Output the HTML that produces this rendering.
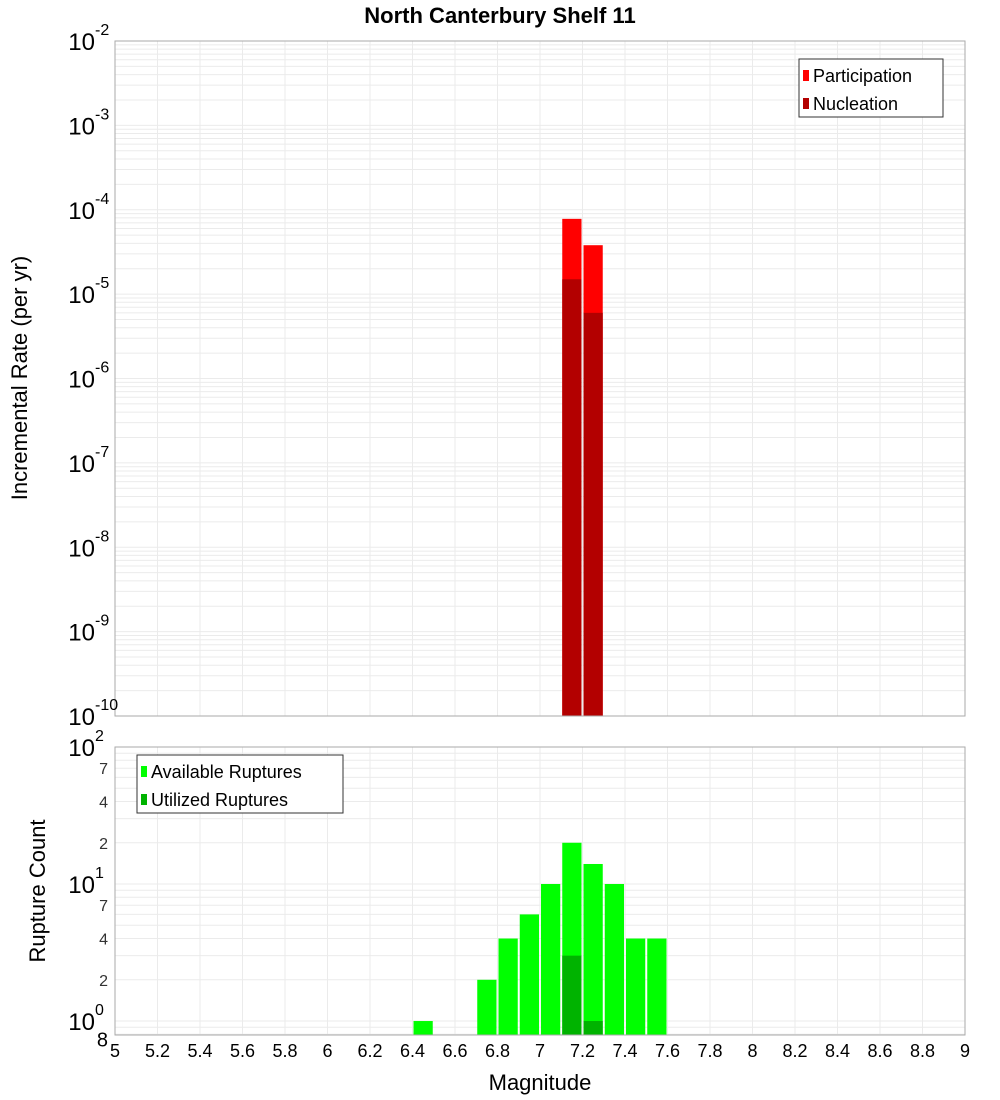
<!DOCTYPE html>
<html><head><meta charset="utf-8"><style>
body{margin:0;background:#fff;}
svg{display:block;font-family:"Liberation Sans","DejaVu Sans",sans-serif;}
</style></head><body>
<svg id="c" width="1000" height="1100"></svg>
<script>
const xTicks=[5,5.2,5.4,5.6,5.8,6,6.2,6.4,6.6,6.8,7,7.2,7.4,7.6,7.8,8,8.2,8.4,8.6,8.8,9];
const topMags=[7.1,7.2];
const participation=[7.8e-5,3.8e-5];
const nucleation=[1.5e-5,6e-6];
const botMags=[6.4,6.7,6.8,6.9,7.0,7.1,7.2,7.3,7.4,7.5];
const available=[1,2,4,6,10,20,14,10,4,4];
const utilMags=[7.1,7.2];
const utilized=[3,1];
const topExps=[-10,-9,-8,-7,-6,-5,-4,-3,-2];
const botExps=[0,1,2];
const botMinor=[2,4,7];

const NS="http://www.w3.org/2000/svg";
const svg=document.getElementById('c');
function mk(t,a,p){const e=document.createElementNS(NS,t);for(const k in a)e.setAttribute(k,a[k]);(p||svg).appendChild(e);return e;}
const X0=115,X1=965;
const xs=m=>X0+(m-5)/4*(X1-X0);
const T0=41,T1=716;
const yt=v=>T1-(Math.log10(v)+10)/8*(T1-T0);
const B0=747,B1=1035,BMIN=-0.102,BMAX=2;
const yb=v=>B1-(Math.log10(v)-BMIN)/(BMAX-BMIN)*(B1-B0);

const g=mk('g',{});


// vertical grid
xTicks.forEach(t=>{
 mk('line',{x1:xs(t),x2:xs(t),y1:T0,y2:T1,stroke:'#ebebeb'},g);
 mk('line',{x1:xs(t),x2:xs(t),y1:B0,y2:B1,stroke:'#ebebeb'},g);
});
// horizontal top grid
for(let e=-10;e<-2;e++)for(let k=1;k<10;k++){const y=yt(k*Math.pow(10,e));mk('line',{x1:X0,x2:X1,y1:y,y2:y,stroke:'#ebebeb'},g);}
for(let e=-1;e<2;e++)for(let k=1;k<10;k++){const v=k*Math.pow(10,e);const y=yb(v);if(y>=B0&&y<=B1)mk('line',{x1:X0,x2:X1,y1:y,y2:y,stroke:'#ebebeb'},g);}

// top bars
topMags.forEach((m,i)=>{
 const x=xs(m)+1,w=xs(m+0.1)-xs(m)-2;
 const p=mk('rect',{x:x,y:yt(participation[i]),width:w,height:T1-yt(participation[i]),fill:'#ff0000'});
 
 
 const n=mk('rect',{x:x,y:yt(nucleation[i]),width:w,height:T1-yt(nucleation[i]),fill:'#b30000'});
 
 
});
botMags.forEach((m,i)=>{
 const x=xs(m)+1,w=xs(m+0.1)-xs(m)-2;
 const r=mk('rect',{x:x,y:yb(available[i]),width:w,height:B1-yb(available[i]),fill:'#00ff00'});
 
 
});
utilMags.forEach((m,i)=>{
 const x=xs(m)+1,w=xs(m+0.1)-xs(m)-2;
 const r=mk('rect',{x:x,y:yb(utilized[i]),width:w,height:B1-yb(utilized[i]),fill:'#00b300'});
 
 
});
// frames
const f1=mk('rect',{x:X0,y:T0,width:X1-X0,height:T1-T0,fill:'none',stroke:'#aaa'});


const f2=mk('rect',{x:X0,y:B0,width:X1-X0,height:B1-B0,fill:'none',stroke:'#aaa'});



// x tick labels
xTicks.forEach(t=>{
 const tx=mk('text',{x:xs(t),y:1057,'font-size':18,'text-anchor':'middle'});
 tx.textContent=String(t);
 
 
});
function pow(y,e,name){
 const t=mk('text',{x:95,y:y+9,'font-size':24,'text-anchor':'end'});
 t.textContent='10';
 
 
 const s=mk('text',{x:95,y:y-6,'font-size':16});
 s.textContent=String(e);
 
 
}
topExps.forEach(e=>pow(yt(Math.pow(10,e)),e,'top-y-tick-label'));
botExps.forEach(e=>pow(yb(Math.pow(10,e)),e,'bottom-y-tick-label'));
for(let e=0;e<2;e++)botMinor.forEach(k=>{
 const t=mk('text',{x:108,y:yb(k*Math.pow(10,e))+6,'font-size':16,'text-anchor':'end',fill:'#333'});
 t.textContent=String(k);
 
 
});
const e8=mk('text',{x:108,y:yb(0.8)+12,'font-size':20,'text-anchor':'end'});
e8.textContent='8';



// titles
const ti=mk('text',{x:500,y:23,'font-size':22,'font-weight':'bold','text-anchor':'middle'});
ti.textContent='North Canterbury Shelf 11';


const xl=mk('text',{x:540,y:1090,'font-size':22,'text-anchor':'middle'});
xl.textContent='Magnitude';


const yl1=mk('text',{x:0,y:0,'font-size':22,'text-anchor':'middle',transform:'translate(27,378) rotate(-90)'});
yl1.textContent='Incremental Rate (per yr)';


const yl2=mk('text',{x:0,y:0,'font-size':22,'text-anchor':'middle',transform:'translate(45,891) rotate(-90)'});
yl2.textContent='Rupture Count';



// legends
function legend(x,y,w,items,name){
 const lg=mk('g',{});
 
 
 mk('rect',{x:x,y:y,width:w,height:58,fill:'#fff',stroke:'#333'},lg);
 items.forEach((it,i)=>{
  mk('rect',{x:x+4,y:y+11+i*28,width:6,height:11,fill:it[1]},lg);
  const t=mk('text',{x:x+14,y:y+23+i*28,'font-size':18},lg);
  t.textContent=it[0];
  
  
 });
}
legend(799,59,144,[['Participation','#ff0000'],['Nucleation','#b30000']],'top-legend');
legend(137,755,206,[['Available Ruptures','#00ff00'],['Utilized Ruptures','#00b300']],'bottom-legend');
</script>
</body></html>
